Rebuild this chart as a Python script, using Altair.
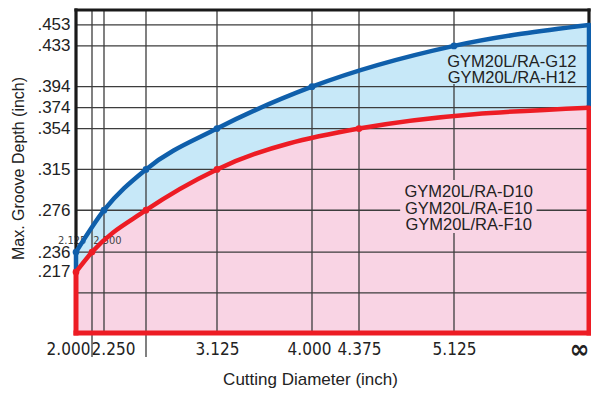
import altair as alt
import pandas as pd

# ---- data ----
# diameter stops on the (non-uniform) x axis; 6.000 stands for "∞"
X_STOPS = [2.000, 2.125, 2.250, 2.500, 3.125, 4.000, 4.375, 5.125, 6.000]
X_STOP_PX = [0, 16, 28, 70, 141, 236, 283, 378, 513]

BLUE_X = [2.000, 2.250, 2.500, 3.125, 4.000, 5.125, 6.000]
BLUE_Y = [0.236, 0.276, 0.315, 0.354, 0.394, 0.433, 0.453]
RED_X = [2.000, 2.125, 2.500, 3.125, 4.375, 6.000]
RED_Y = [0.217, 0.236, 0.276, 0.315, 0.354, 0.374]

Y_TICKS = [0.453, 0.433, 0.394, 0.374, 0.354, 0.315, 0.276, 0.236, 0.217]
Y_GRID = [0.453, 0.433, 0.394, 0.374, 0.354, 0.315, 0.276, 0.236, 0.197]
X_GRID = [2.125, 2.250, 2.500, 3.125, 4.000, 4.375, 5.125]
X_LABELS = [2.000, 2.250, 3.125, 4.000, 4.375, 5.125, 6.000]
X_SEPARATORS = [2.125, 2.500]

SMALL_TEXT = ["2.125", "2.500"]
SMALL_X = [1.97, 2.27]
SMALL_Y = [0.2467, 0.2467]

UPPER_TEXT = ["GYM20L/RA-G12", "GYM20L/RA-H12"]
UPPER_POS = [5.50, 0.4180]
UPPER_BOX = [5.01, 5.93, 0.3965, 0.4315]
LOWER_TEXT = ["GYM20L/RA-D10", "GYM20L/RA-E10", "GYM20L/RA-F10"]
LOWER_POS = [5.22, 0.2934]
LOWER_BOX = [4.70, 5.66, 0.2543, 0.3049]

X_MIN, X_MAX = 2.0, 6.0
Y_MIN, Y_MAX = 0.1587, 0.4673

BLUE = "#0f5fab"
RED = "#ed1c24"
BLUE_FILL = "#c7e8f8"
PINK_FILL = "#f9d4e4"
GRID = "#3d3d3d"
INK = "#222222"
SANS = "Liberation Sans, Arial, sans-serif"
NARROW = "Liberation Sans Narrow, Arial Narrow, DejaVu Sans Condensed, sans-serif"

XS = alt.Scale(type="linear", domain=X_STOPS, range=X_STOP_PX, nice=False, zero=False)
YS = alt.Scale(type="linear", domain=[Y_MIN, Y_MAX], nice=False, zero=False)

x_axis = alt.Axis(
    values=X_LABELS,
    labelExpr="datum.value == 6 ? '∞' : format(datum.value, '.3f')",
    labelFont=NARROW,
    labelFontSize={"condition": {"test": "datum.value == 6", "value": 26}, "value": 17},
    labelFontWeight={"condition": {"test": "datum.value == 6", "value": "bold"}, "value": "normal"},
    labelOffset={
        "condition": [
            {"test": "datum.value == 2", "value": -8},
            {"test": "datum.value == 2.25", "value": 9},
            {"test": "datum.value == 4", "value": -3},
            {"test": "datum.value == 6", "value": -10},
        ],
        "value": 0,
    },
    labelBaseline="middle",
    labelPadding=16,
    labelColor=INK,
    labelFlush=False,
    labelOverlap=False,
    ticks=False,
    domain=False,
    grid=False,
    title="Cutting Diameter (inch)",
    titleFont=SANS,
    titleFontSize=17,
    titleFontWeight="normal",
    titleColor=INK,
    titleX=234,
    titleY=51,
    titleAlign="center",
    titleBaseline="alphabetic",
)

y_axis = alt.Axis(
    values=Y_TICKS,
    labelExpr="substring(format(datum.value, '.3f'), 1)",
    labelFont=SANS,
    labelFontSize=17,
    labelColor=INK,
    labelPadding=6,
    labelOverlap=False,
    labelFlush=False,
    ticks=False,
    domain=False,
    grid=False,
    title="Max. Groove Depth (inch)",
    titleFont=SANS,
    titleFontSize=16,
    titleFontWeight="normal",
    titleColor=INK,
    titleAngle=270,
    titleX=-58,
    titleY=158,
    titleAlign="center",
    titleBaseline="middle",
)


def xq(field="x"):
    return alt.X(f"{field}:Q", scale=XS, axis=x_axis)


def yq(field="y"):
    return alt.Y(f"{field}:Q", scale=YS, axis=y_axis)


blue_df = pd.DataFrame({"x": BLUE_X, "y": BLUE_Y})
red_df = pd.DataFrame({"x": RED_X, "y": RED_Y})

blue_area = alt.Chart(blue_df).mark_area(interpolate="monotone", color=BLUE_FILL).encode(
    x=xq(), y=yq(), y2=alt.datum(Y_MIN)
)
pink_area = alt.Chart(red_df).mark_area(interpolate="monotone", color=PINK_FILL).encode(
    x=xq(), y=yq(), y2=alt.datum(Y_MIN)
)

hgrid = alt.Chart(pd.DataFrame({"y": Y_GRID})).mark_rule(color=GRID, strokeWidth=1.3).encode(y=yq())
vgrid = alt.Chart(pd.DataFrame({"x": X_GRID})).mark_rule(color=GRID, strokeWidth=1.3).encode(x=xq())
separators = alt.Chart(pd.DataFrame({"x": X_SEPARATORS})).mark_rule(color=GRID, strokeWidth=1.3).encode(
    x=xq(), y=alt.value(323), y2=alt.value(347)
)


def text_block(lines, pos, box, fill, line_height):
    box_df = pd.DataFrame({"x": [box[0]], "x2": [box[1]], "y": [box[2]], "y2": [box[3]]})
    back = alt.Chart(box_df).mark_rect(color=fill).encode(x=xq(), x2="x2:Q", y=yq(), y2="y2:Q")
    df = pd.DataFrame({"x": [pos[0]], "y": [pos[1]], "t": ["\n".join(lines)]})
    front = alt.Chart(df).mark_text(
        color=INK, lineBreak="\n", lineHeight=line_height, align="center", baseline="middle",
        font=SANS, fontSize=16.5,
    ).encode(x=xq(), y=yq(), text="t:N")
    return [back, front]


small = alt.Chart(pd.DataFrame({"x": SMALL_X, "y": SMALL_Y, "t": SMALL_TEXT})).mark_text(
    font=NARROW, fontSize=11, color="#444444", align="center", baseline="middle"
).encode(x=xq(), y=yq(), text="t:N")

black_seg = pd.DataFrame({
    "x": [X_MIN, X_MIN, X_MAX], "x2": [X_MAX, X_MIN, X_MAX],
    "y": [Y_MAX, BLUE_Y[0], BLUE_Y[-1]], "y2": [Y_MAX, Y_MAX, Y_MAX],
})
blue_seg = pd.DataFrame({
    "x": [X_MIN, X_MAX], "x2": [X_MIN, X_MAX],
    "y": [RED_Y[0], RED_Y[-1]], "y2": [BLUE_Y[0], BLUE_Y[-1]],
})
red_seg = pd.DataFrame({
    "x": [X_MIN, X_MIN, X_MAX], "x2": [X_MIN, X_MAX, X_MAX],
    "y": [Y_MIN, Y_MIN, Y_MIN], "y2": [RED_Y[0], Y_MIN, RED_Y[-1]],
})


def segs(df, color, width, cap):
    return alt.Chart(df).mark_rule(color=color, strokeWidth=width, strokeCap=cap).encode(
        x=xq(), x2="x2:Q", y=yq(), y2="y2:Q"
    )


frame_black = segs(black_seg, "#1a1a1a", 3.2, "square")
frame_blue = segs(blue_seg, BLUE, 4.5, "round")
frame_red = segs(red_seg, RED, 5, "square")

blue_line = alt.Chart(blue_df).mark_line(interpolate="monotone", color=BLUE, strokeWidth=4.5,
                                         strokeCap="round").encode(x=xq(), y=yq())
red_line = alt.Chart(red_df).mark_line(interpolate="monotone", color=RED, strokeWidth=4.5,
                                       strokeCap="round").encode(x=xq(), y=yq())
blue_pts = alt.Chart(blue_df).transform_filter("datum.x < 6").mark_point(
    filled=True, size=45, color=BLUE, opacity=1).encode(x=xq(), y=yq())
red_pts = alt.Chart(red_df).transform_filter("datum.x < 6").mark_point(
    filled=True, size=45, color=RED, opacity=1).encode(x=xq(), y=yq())

layers = [blue_area, pink_area, hgrid, vgrid, separators]
layers += text_block(UPPER_TEXT, UPPER_POS, UPPER_BOX, BLUE_FILL, 16.5)
layers += text_block(LOWER_TEXT, LOWER_POS, LOWER_BOX, PINK_FILL, 16.5)
layers += [small, frame_black, frame_red, frame_blue, blue_line, red_line, blue_pts, red_pts]

chart = alt.layer(*layers).properties(
    width=513,
    height=323,
    padding={"left": 68, "top": 2, "right": 2, "bottom": 55},
    autosize=alt.AutoSizeParams(type="none"),
    background="white",
).configure_view(stroke=None)

chart.save("out.html", embed_options={"renderer": "svg", "actions": False})
